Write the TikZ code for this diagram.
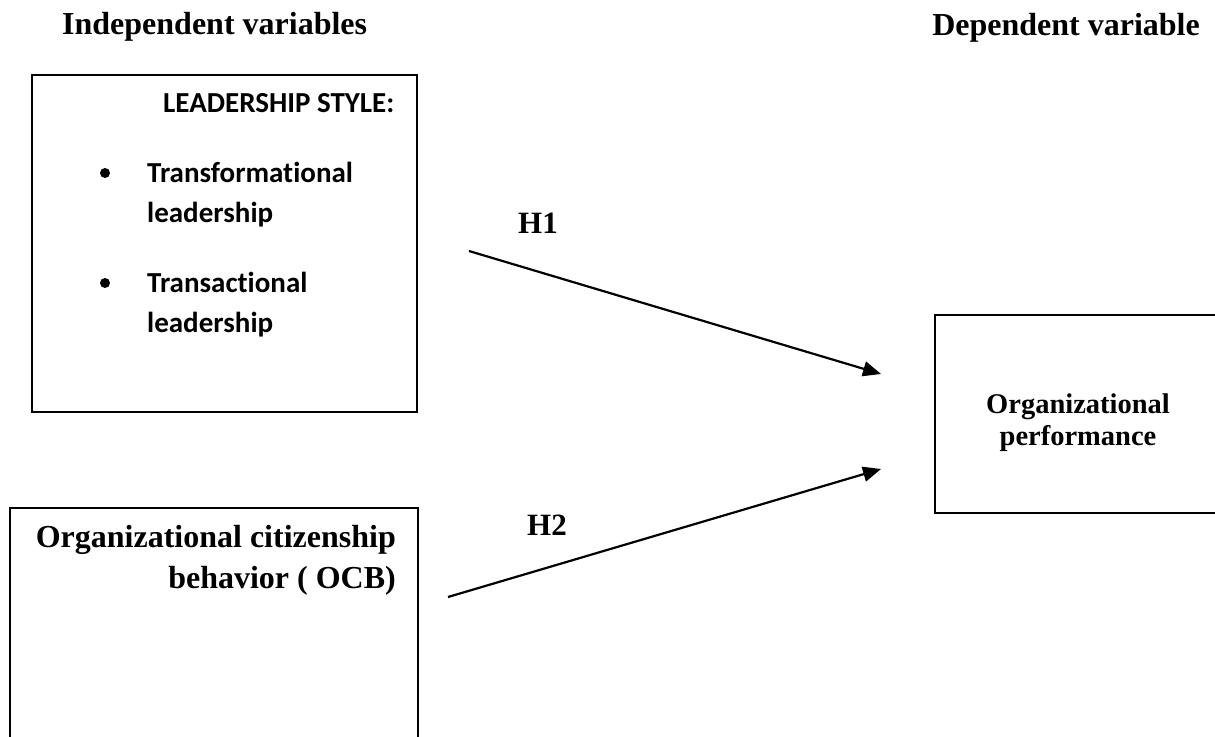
\documentclass[tikz,border=0pt]{standalone}
\usepackage{fontspec}
\setmainfont{Liberation Serif}
\newfontfamily\calibri[Ligatures=NoCommon]{Carlito}
\usetikzlibrary{arrows.meta}

\begin{document}
\begin{tikzpicture}[x=1pt, y=-1pt,
    varbox/.style={draw, line width=2.2pt, inner sep=0pt},
    bigtext/.style={font=\fontsize{32}{41}\selectfont\bfseries, inner sep=0pt},
    item/.style={font=\calibri\fontsize{29}{40}\selectfont\bfseries, inner sep=0pt, align=left, anchor=north west},
    dot/.style={circle, fill, inner sep=0pt, minimum size=10pt},
    link/.style={line width=2.2pt, -{Triangle[length=18pt, width=15pt]}}]

    % Fix the page size
    \clip (0,0) rectangle (1215,736);

    % Headings
    \node[bigtext, anchor=base west] (indep) at (62,34) {Independent variables};
    \node[bigtext, anchor=base east] (dep) at (1200,35) {Dependent variable};

    % Draw the boxes
    \node[varbox, minimum width=385pt, minimum height=337pt, anchor=north west] (lead) at (31,74) {};
    \node[varbox, minimum width=408pt, minimum height=260pt, anchor=north west] (ocb) at (9,507) {};
    \node[varbox, minimum width=300pt, minimum height=198pt, anchor=north west] (perf) at (934,314) {};

    % Leadership style box
    \node[font=\calibri\fontsize{29}{35}\selectfont\bfseries, inner sep=0pt, anchor=base west] (style) at (163,112) {LEADERSHIP STYLE:};
    \node[dot] (b1) at (105,173) {};
    \node[item] (tf) at (147,162) {Transformational\\leadership};
    \node[dot] (b2) at (105,283) {};
    \node[item] (ta) at (147,272) {Transactional\\leadership};

    % OCB box
    \node[bigtext, anchor=north east, align=right] (ocbtext) at (396,525) {Organizational citizenship\\behavior ( OCB)};

    % Performance box
    \node[font=\fontsize{28.5}{32}\selectfont\bfseries, inner sep=0pt, anchor=north, align=center] (perftext) at (1078,394) {Organizational\\performance};

    % Hypotheses
    \coordinate (h1s) at (469,251);
    \coordinate (h1e) at (881,374);
    \coordinate (h2s) at (448,597);
    \coordinate (h2e) at (881,469);
    \draw[link] (h1s) -- (h1e);
    \draw[link] (h2s) -- (h2e);
    \node[bigtext, font=\fontsize{31}{36}\selectfont\bfseries, anchor=base west] (h1) at (518,233) {H1};
    \node[bigtext, font=\fontsize{31}{36}\selectfont\bfseries, anchor=base west] (h2) at (527,535) {H2};
\end{tikzpicture}
\end{document}
